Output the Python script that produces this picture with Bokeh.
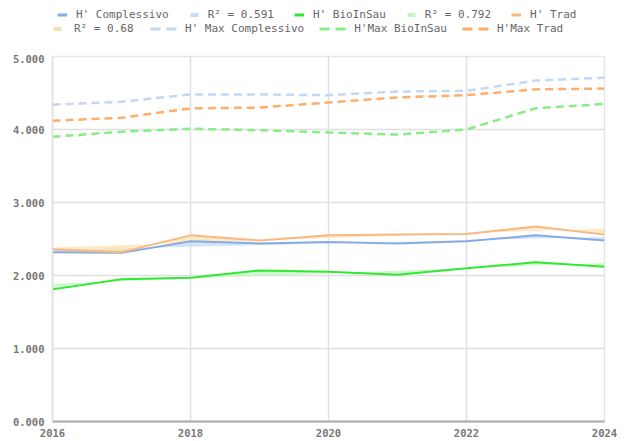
import numpy as np
from bokeh.plotting import figure
from bokeh.layouts import column
from bokeh.models import Legend, LegendItem, NumeralTickFormatter, FixedTicker, Range1d
from bokeh.embed import file_html
from bokeh.resources import INLINE

years = [2016, 2017, 2018, 2019, 2020, 2021, 2022, 2023, 2024]
h_comp = [2.32, 2.31, 2.47, 2.44, 2.46, 2.44, 2.47, 2.55, 2.48]
h_bio = [1.81, 1.95, 1.97, 2.07, 2.05, 2.01, 2.10, 2.18, 2.12]
h_trad = [2.36, 2.32, 2.55, 2.48, 2.55, 2.56, 2.57, 2.67, 2.56]
hmax_comp = [4.34, 4.38, 4.48, 4.48, 4.47, 4.52, 4.53, 4.67, 4.71]
hmax_bio = [3.90, 3.97, 4.01, 3.99, 3.96, 3.93, 4.00, 4.29, 4.35]
hmax_trad = [4.12, 4.16, 4.29, 4.30, 4.37, 4.44, 4.47, 4.55, 4.56]
r2_labels = ["R² = 0.591", "R² = 0.792", "R² = 0.68"]
x_ticks = [2016, 2018, 2020, 2022, 2024]
y_ticks = [0, 1, 2, 3, 4, 5]

FONT = "DejaVu Sans Mono"
FRAME_W, FRAME_H = 552, 365
LEG_H = 54

C_COMP, C_BIO, C_TRAD = "#86ace2", "#33e833", "#f8b882"
C_BCOMP, C_BBIO, C_BTRAD = "#c9dcf6", "#c6f5c6", "#f9e1aa"
C_DCOMP, C_DBIO, C_DTRAD = "#c4d8f2", "#86ee86", "#fdae6b"

def trend(y):
    c = np.polyfit(years, y, 1)
    return list(np.polyval(c, years))

p = figure(frame_width=FRAME_W, frame_height=FRAME_H, output_backend="svg", toolbar_location=None,
           x_range=Range1d(2016, 2024), y_range=Range1d(0, 5),
           min_border_left=52, min_border_right=30, min_border_top=2, min_border_bottom=0)
p.outline_line_color = "#e6e6e6"
p.outline_line_width = 1.5

# bands between series and its linear trend
p.varea(x=years, y1=h_comp, y2=trend(h_comp), fill_color=C_BCOMP, fill_alpha=0.8)
p.varea(x=years, y1=h_bio, y2=trend(h_bio), fill_color=C_BBIO, fill_alpha=0.8)
p.varea(x=years, y1=h_trad, y2=trend(h_trad), fill_color=C_BTRAD, fill_alpha=0.7)

p.line(years, h_comp, line_color=C_COMP, line_width=2)
p.line(years, h_bio, line_color=C_BIO, line_width=2)
p.line(years, h_trad, line_color=C_TRAD, line_width=2)

p.line(years, hmax_comp, line_color=C_DCOMP, line_width=2.5, line_dash="8 5")
p.line(years, hmax_bio, line_color=C_DBIO, line_width=2.5, line_dash="8 5")
p.line(years, hmax_trad, line_color=C_DTRAD, line_width=2.5, line_dash="8 5")

for ax in (p.xaxis[0], p.yaxis[0]):
    ax.major_tick_line_color = None
    ax.minor_tick_line_color = None
    ax.major_label_text_font = FONT
    ax.major_label_text_font_size = "10.5px"
    ax.major_label_text_font_style = "bold"
    ax.major_label_text_color = "#777777"
    ax.major_label_standoff = 2

p.xaxis.ticker = FixedTicker(ticks=x_ticks)
p.yaxis.ticker = FixedTicker(ticks=y_ticks)
p.yaxis.formatter = NumeralTickFormatter(format="0.000")
p.xaxis.axis_line_color = "#aaaaaa"
p.xaxis.axis_line_width = 2
p.xaxis.major_label_standoff = 1
p.yaxis.axis_line_color = "#e0e0e0"
p.yaxis.axis_line_width = 1.5
p.xgrid.grid_line_color = "#e0e0e0"
p.xgrid.grid_line_width = 1.5
p.ygrid.grid_line_color = "#e0e0e0"
p.ygrid.grid_line_width = 1.5

# legend strip: swatch renderers sit outside the strip's visible range
lp = figure(width=634, height=LEG_H, output_backend="svg", toolbar_location=None,
            x_range=Range1d(0, 1), y_range=Range1d(0, 1), min_border=0,
            x_axis_location=None, y_axis_location=None)
lp.grid.visible = False
lp.outline_line_color = None
off = dict(x=[-5, -4], y=[-5, -4])
offa = dict(x=[-5, -4], y1=[-5, -5], y2=[-4, -4])
g_comp = lp.line(line_color=C_COMP, line_width=3, **off)
g_bcomp = lp.varea(fill_color=C_BCOMP, **offa)
g_bio = lp.line(line_color=C_BIO, line_width=3, **off)
g_bbio = lp.varea(fill_color=C_BBIO, **offa)
g_trad = lp.line(line_color=C_TRAD, line_width=3, **off)
g_btrad = lp.varea(fill_color=C_BTRAD, **offa)
g_dcomp = lp.line(line_color=C_DCOMP, line_width=3, line_dash="10 6", **off)
g_dbio = lp.line(line_color=C_DBIO, line_width=3, line_dash="10 6", **off)
g_dtrad = lp.line(line_color=C_DTRAD, line_width=3, line_dash="10 6", **off)

def mk_legend(items, gw, loc):
    return Legend(items=items, orientation="horizontal", location=loc,
                  border_line_color=None, background_fill_alpha=0,
                  label_text_font=FONT, label_text_font_size="11px",
                  label_text_color="#666666", glyph_width=gw, glyph_height=5,
                  spacing=20, padding=0, margin=0, label_standoff=9,
                  label_height=12)

# the strip's frame is aligned with the chart frame (left edge at 52px)
leg1 = mk_legend([
    LegendItem(label="H' Complessivo", renderers=[g_comp]),
    LegendItem(label=r2_labels[0], renderers=[g_bcomp]),
    LegendItem(label="H' BioInSau", renderers=[g_bio]),
    LegendItem(label=r2_labels[1], renderers=[g_bbio]),
    LegendItem(label="H' Trad", renderers=[g_trad]),
], 10, (5, LEG_H - 21))
leg2a = mk_legend([
    LegendItem(label=r2_labels[2], renderers=[g_btrad]),
], 10, (0, LEG_H - 35))
leg2a.label_standoff = 12
leg2b = mk_legend([
    LegendItem(label="H' Max Complessivo", renderers=[g_dcomp]),
    LegendItem(label="H'Max BioInSau", renderers=[g_dbio]),
    LegendItem(label="H'Max Trad", renderers=[g_dtrad]),
], 28, (98, LEG_H - 35))
leg2b.spacing = 15
leg2b.label_standoff = 7
for lg in (leg1, leg2a, leg2b):
    lp.add_layout(lg, "center")

layout = column(lp, p, spacing=0)
open("out.html", "w").write(file_html(layout, INLINE))
